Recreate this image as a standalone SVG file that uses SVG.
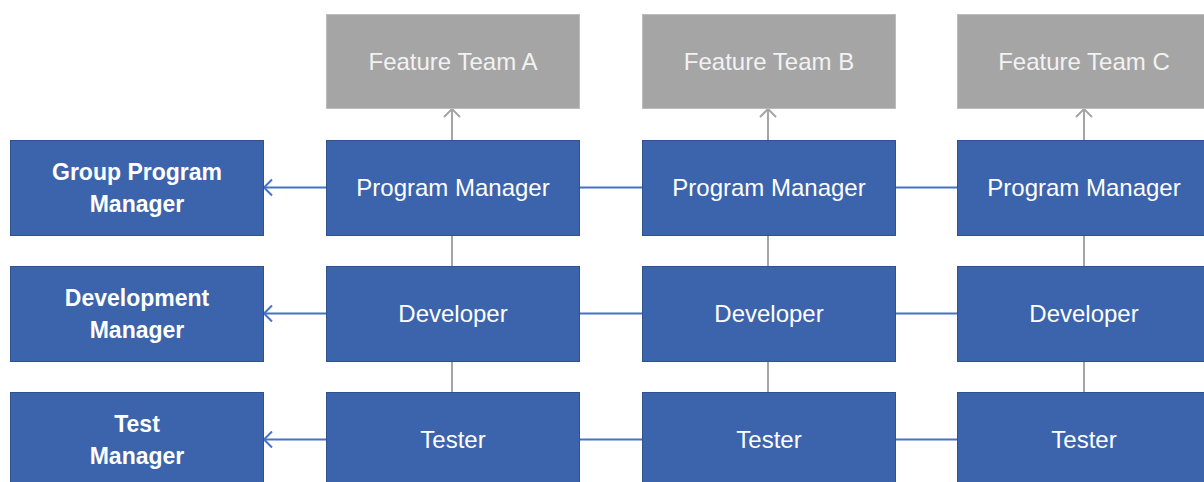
<svg xmlns="http://www.w3.org/2000/svg" width="1204" height="482" viewBox="0 0 1204 482">
  <style>
    .role rect { fill: #3b64ad; stroke: #2f528f; stroke-width: 1; }
    .team rect { fill: #a5a5a5; stroke: #bcbcbc; stroke-width: 1; }
    text { font-family: "Liberation Sans", Arial, sans-serif; font-size: 24px; text-anchor: middle; fill: #ffffff; }
    .team text { fill: #f2f2f2; }
    .mgr text { font-weight: bold; font-size: 23px; }
    .blue { stroke: #4472c4; stroke-width: 2; fill: none; }
    .gray { stroke: #a5a5a5; stroke-width: 2; fill: none; }
  </style>
  <defs>
    <!-- open chevron heads; the tip sits on the end of the line -->
    <marker id="openBlue" viewBox="0 0 10 20" refX="9" refY="10" markerWidth="10" markerHeight="20" markerUnits="userSpaceOnUse" orient="auto">
      <path d="M1,2 L9,10 L1,18" fill="none" stroke="#4472c4" stroke-width="2"/>
    </marker>
    <marker id="openGray" viewBox="0 0 10 20" refX="9" refY="10" markerWidth="10" markerHeight="20" markerUnits="userSpaceOnUse" orient="auto">
      <path d="M1,2 L9,10 L1,18" fill="none" stroke="#a5a5a5" stroke-width="2"/>
    </marker>
  </defs>

  <!-- connectors -->
  <g id="connectors">
    <!-- programme managers report up to their feature teams -->
    <line class="gray" x1="452" y1="140" x2="452" y2="109" marker-end="url(#openGray)"/>
    <line class="gray" x1="768" y1="140" x2="768" y2="109" marker-end="url(#openGray)"/>
    <line class="gray" x1="1084" y1="140" x2="1084" y2="109" marker-end="url(#openGray)"/>
    <!-- links inside each feature team -->
    <line class="gray" x1="452" y1="235" x2="452" y2="266"/>
    <line class="gray" x1="452" y1="361" x2="452" y2="392"/>
    <line class="gray" x1="768" y1="235" x2="768" y2="266"/>
    <line class="gray" x1="768" y1="361" x2="768" y2="392"/>
    <line class="gray" x1="1084" y1="235" x2="1084" y2="266"/>
    <line class="gray" x1="1084" y1="361" x2="1084" y2="392"/>
    <!-- discipline lines across the teams to their managers -->
    <line class="blue" x1="326" y1="187.5" x2="264" y2="187.5" marker-end="url(#openBlue)"/>
    <line class="blue" x1="579" y1="187.5" x2="642" y2="187.5"/>
    <line class="blue" x1="895" y1="187.5" x2="957" y2="187.5"/>
    <line class="blue" x1="326" y1="313.5" x2="264" y2="313.5" marker-end="url(#openBlue)"/>
    <line class="blue" x1="579" y1="313.5" x2="642" y2="313.5"/>
    <line class="blue" x1="895" y1="313.5" x2="957" y2="313.5"/>
    <line class="blue" x1="326" y1="439.5" x2="264" y2="439.5" marker-end="url(#openBlue)"/>
    <line class="blue" x1="579" y1="439.5" x2="642" y2="439.5"/>
    <line class="blue" x1="895" y1="439.5" x2="957" y2="439.5"/>
  </g>

  <!-- feature teams -->
  <g id="team-a" class="team"><rect x="326.5" y="14.5" width="253" height="94"/><text x="453" y="69.5">Feature Team A</text></g>
  <g id="team-b" class="team"><rect x="642.5" y="14.5" width="253" height="94"/><text x="769" y="69.5">Feature Team B</text></g>
  <g id="team-c" class="team"><rect x="957.5" y="14.5" width="253" height="94"/><text x="1084" y="69.5">Feature Team C</text></g>

  <!-- discipline managers -->
  <g id="group-program-manager" class="role mgr"><rect x="10.5" y="140.5" width="253" height="95"/><text x="137" y="180">Group Program</text><text x="137" y="212">Manager</text></g>
  <g id="development-manager" class="role mgr"><rect x="10.5" y="266.5" width="253" height="95"/><text x="137" y="306">Development</text><text x="137" y="338">Manager</text></g>
  <g id="test-manager" class="role mgr"><rect x="10.5" y="392.5" width="253" height="95"/><text x="137" y="432">Test</text><text x="137" y="464">Manager</text></g>

  <!-- team A -->
  <g id="pm-a" class="role"><rect x="326.5" y="140.5" width="253" height="95"/><text x="453" y="196">Program Manager</text></g>
  <g id="dev-a" class="role"><rect x="326.5" y="266.5" width="253" height="95"/><text x="453" y="322">Developer</text></g>
  <g id="test-a" class="role"><rect x="326.5" y="392.5" width="253" height="95"/><text x="453" y="448">Tester</text></g>

  <!-- team B -->
  <g id="pm-b" class="role"><rect x="642.5" y="140.5" width="253" height="95"/><text x="769" y="196">Program Manager</text></g>
  <g id="dev-b" class="role"><rect x="642.5" y="266.5" width="253" height="95"/><text x="769" y="322">Developer</text></g>
  <g id="test-b" class="role"><rect x="642.5" y="392.5" width="253" height="95"/><text x="769" y="448">Tester</text></g>

  <!-- team C -->
  <g id="pm-c" class="role"><rect x="957.5" y="140.5" width="253" height="95"/><text x="1084" y="196">Program Manager</text></g>
  <g id="dev-c" class="role"><rect x="957.5" y="266.5" width="253" height="95"/><text x="1084" y="322">Developer</text></g>
  <g id="test-c" class="role"><rect x="957.5" y="392.5" width="253" height="95"/><text x="1084" y="448">Tester</text></g>
</svg>
